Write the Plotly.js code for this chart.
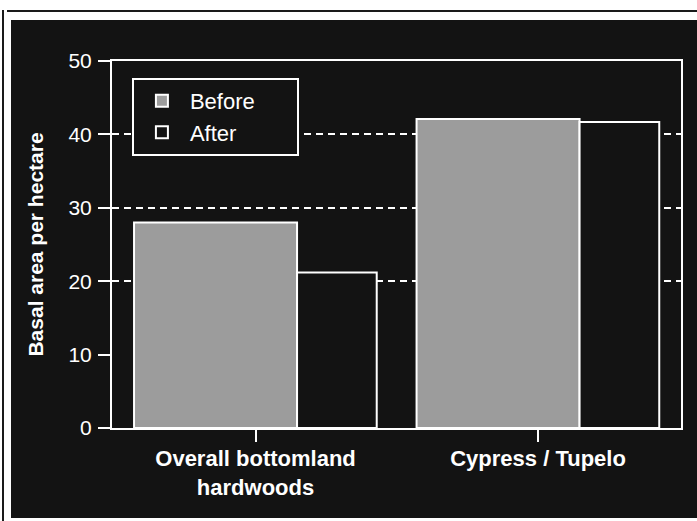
<!DOCTYPE html>
<html>
<head>
<meta charset="utf-8">
<script src="https://cdn.plot.ly/plotly-3.0.1.min.js"></script>
<style>
  html, body { margin: 0; padding: 0; background: #ffffff; width: 697px; height: 521px; overflow: hidden; }
  #topline { position: absolute; left: 7px; top: 10px; width: 690px; height: 2px; background: #1a1a1a; }
  #leftline { position: absolute; left: 2px; top: 10px; width: 2px; height: 511px; background: #1a1a1a; }
  #chart { position: absolute; left: 11px; top: 20px; width: 686px; height: 498px; }
</style>
</head>
<body>
<div id="topline"></div>
<div id="leftline"></div>
<div id="chart"></div>
<script>
// Data
const categories = ["Overall bottomland<br>hardwoods", "Cypress / Tupelo"];
const beforeValues = [28.0, 42.1];
const afterValues = [21.2, 41.7];
const seriesNames = ["Before", "After"];
const yTickVals = [0, 10, 20, 30, 40, 50];
const gridVals = [20, 30, 40];

const white = "#ffffff";
const bg = "#131313";
const pad = "\u00a0".repeat(6);

const traces = [
  {
    type: "bar", name: seriesNames[0] + pad, x: categories, y: beforeValues,
    offset: -0.43, width: 0.577, legendgroup: "a",
    marker: { color: "#9c9c9c", line: { color: white, width: 2 } },
    hoverinfo: "none"
  },
  {
    type: "bar", name: seriesNames[1], x: categories, y: afterValues,
    offset: 0.147, width: 0.282, legendgroup: "b",
    marker: { color: bg, line: { color: white, width: 2 } },
    hoverinfo: "none"
  },
  {
    type: "scatter", x: [categories[0]], y: [0], yaxis: "y2",
    mode: "markers", marker: { opacity: 0 }, showlegend: false, hoverinfo: "none"
  }
];

const layout = {
  width: 686, height: 498,
  paper_bgcolor: bg, plot_bgcolor: bg,
  margin: { l: 101, r: 16, t: 41, b: 90 },
  barmode: "overlay",
  showlegend: true,
  font: { family: "Liberation Sans, Arial, sans-serif", color: white },
  legend: {
    x: 0.035, y: 0.954, xanchor: "left", yanchor: "top",
    bgcolor: bg, bordercolor: white, borderwidth: 2,
    font: { size: 22, color: white },
    tracegroupgap: 18, itemwidth: 46, traceorder: "normal"
  },
  xaxis: {
    type: "category", range: [-0.508, 1.506],
    showline: true, linecolor: white, linewidth: 2, mirror: true,
    ticks: "outside", ticklen: 12, tickwidth: 2, tickcolor: white,
    ticklabelstandoff: -2,
    tickfont: { size: 22, color: white, family: "Liberation Sans, Arial, sans-serif", weight: "bold" },
    showgrid: false, zeroline: false, fixedrange: true
  },
  yaxis: {
    range: [0, 50], tickvals: yTickVals, ticktext: yTickVals.map(String),
    showline: true, linecolor: white, linewidth: 2, mirror: true,
    ticks: "outside", ticklen: 12, tickwidth: 2, tickcolor: white,
    ticklabelstandoff: 2,
    tickfont: { size: 21, color: white },
    showgrid: false, zeroline: false, fixedrange: true,
    title: { text: "Basal area per hectare", standoff: 19,
             font: { size: 21, color: white, weight: "bold" } }
  },
  yaxis2: {
    overlaying: "y", range: [0, 50], tickvals: gridVals,
    showticklabels: false, ticks: "", showline: false, zeroline: false,
    showgrid: true, gridcolor: white, gridwidth: 2, griddash: "7px,5px",
    fixedrange: true
  }
};

Plotly.newPlot("chart", traces, layout, { displayModeBar: false, staticPlot: true });
</script>
</body>
</html>
